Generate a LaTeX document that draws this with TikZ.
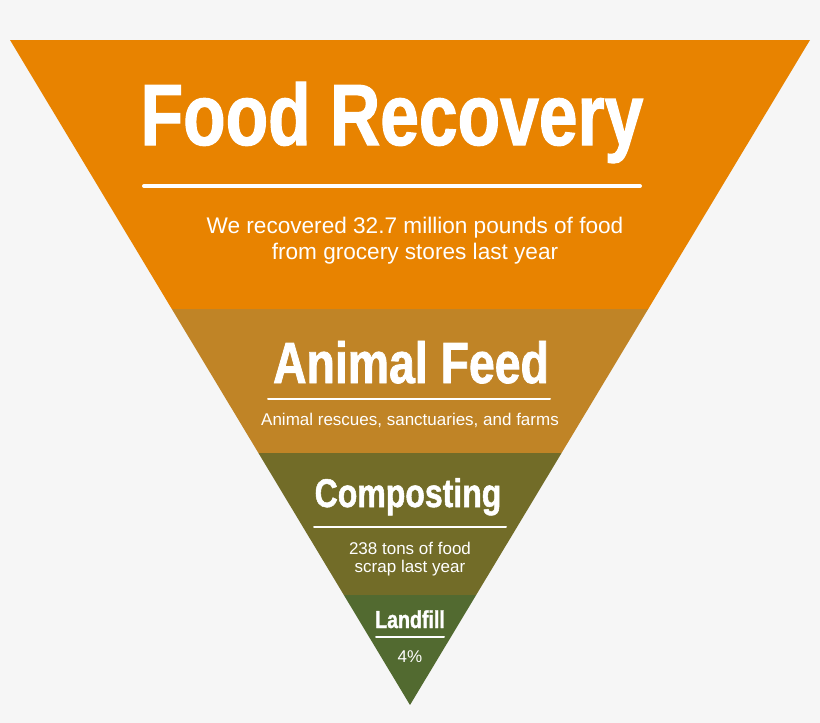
\documentclass[tikz,border=0pt]{standalone}
\usepackage{fontspec}
\setmainfont{Liberation Sans}
\newfontfamily\condfont[FakeStretch=0.8,FakeBold=1.3]{Liberation Sans}
\definecolor{backdrop}{HTML}{F6F6F6}
\definecolor{recovery}{HTML}{E88300}
\definecolor{feed}{HTML}{C08426}
\definecolor{compost}{HTML}{726C28}
\definecolor{landfill}{HTML}{526A30}
\tikzset{heading/.style={text=white,font=\condfont\bfseries,inner sep=0,anchor=base},
 note/.style={text=white,align=center,inner sep=0},
 rule/.style={white,line width=#1,line cap=round}}

\begin{document}
\begin{tikzpicture}[x=1pt,y=-1pt]
\fill[backdrop] (0,0) rectangle (820,723);
\useasboundingbox (0,0) rectangle (820,723);

% the four bands of the funnel
\begin{scope}
\clip (10,40) -- (810,40) -- (410,705) -- cycle;
\fill[recovery] (0,40) rectangle (820,309);
\fill[feed] (0,309) rectangle (820,453);
\fill[compost] (0,453) rectangle (820,595);
\fill[landfill] (0,595) rectangle (820,705);
\end{scope}

\node[heading] (recoveryhead) at (392,145) {\fontsize{87}{87}\selectfont Food Recovery};
\draw[rule=4pt] (144,186) -- (640,186);
\node[note,font=\fontsize{22.6}{26}\selectfont] (recoverynote) at (415,241)
 {We recovered 32.7 million pounds of food\\from grocery stores last year};

\node[heading] (feedhead) at (411,383) {\fontsize{58}{58}\selectfont Animal Feed};
\draw[rule=2pt] (268,399) -- (550,399);
\node[note,font=\fontsize{17}{20}\selectfont,anchor=base] (feednote) at (410,425)
 {Animal rescues, sanctuaries, and farms};

\node[heading] (composthead) at (408,507) {\fontsize{40}{40}\selectfont Composting};
\draw[rule=2pt] (314,527) -- (506,527);
\node[note,font=\fontsize{17}{18.5}\selectfont] (compostnote) at (410,559)
 {238 tons of food\\scrap last year};

\node[heading] (landfillhead) at (410,628) {\fontsize{24.5}{24.5}\selectfont Landfill};
\draw[rule=2pt] (376,637) -- (444,637);
\node[note,font=\fontsize{17}{20}\selectfont] (landfillnote) at (410,657) {4\%};
\end{tikzpicture}
\end{document}
